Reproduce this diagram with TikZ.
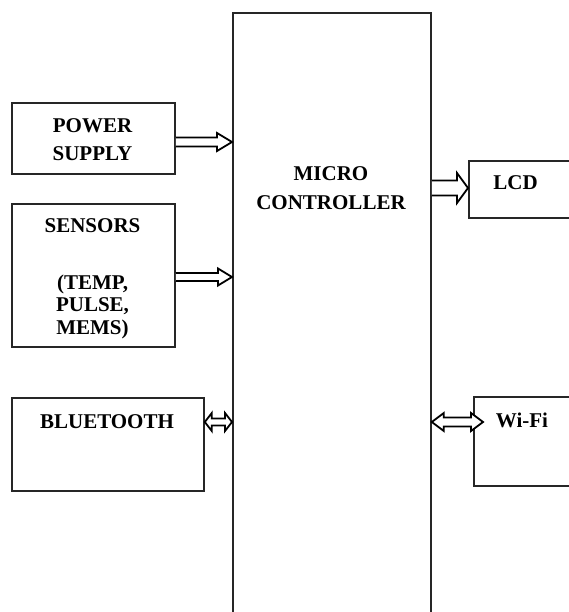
\documentclass[tikz,border=0pt]{standalone}
\usepackage{fontspec}
\setmainfont{Liberation Serif}
\usetikzlibrary{calc}
\tikzset{
  blk/.style={draw=black!85, line width=1.8pt, fill=none, inner sep=0pt, anchor=north west},
  lbl/.style={font=\fontsize{21}{28}\selectfont\bfseries, anchor=base, inner sep=0pt, align=center},
  arr/.style={draw=black, line width=1.8pt, fill=white, line join=miter},
}
% right hollow arrow: #1 start coord, #2 end coord, #3 shaft half, #4 head half, #5 head length
\newcommand\hollowR[5]{%
  \draw[arr] let \p1=(#1), \p2=(#2) in
    (\x1,\y1+#3) -- (\x2-#5,\y1+#3) -- (\x2-#5,\y1+#4) -- (\x2,\y1)
    -- (\x2-#5,\y1-#4) -- (\x2-#5,\y1-#3) -- (\x1,\y1-#3);}
% double hollow arrow
\newcommand\hollowD[5]{%
  \draw[arr] let \p1=(#1), \p2=(#2) in
    (\x1,\y1) -- (\x1+#5,\y1+#4) -- (\x1+#5,\y1+#3) -- (\x2-#5,\y1+#3) -- (\x2-#5,\y1+#4) -- (\x2,\y1)
    -- (\x2-#5,\y1-#4) -- (\x2-#5,\y1-#3) -- (\x1+#5,\y1-#3) -- (\x1+#5,\y1-#4) -- cycle;}
\begin{document}
\begin{tikzpicture}[x=1pt,y=-1pt]
\useasboundingbox (0,0) rectangle (569,612);
\clip (0,0) rectangle (569,612);
\fill[white] (0,0) rectangle (569,612);

% boxes
\node[blk, minimum width=198pt, minimum height=640pt] (mc) at (232,12) {};
\node[blk, minimum width=163pt, minimum height=71pt] (ps) at (11,102) {};
\node[blk, minimum width=163pt, minimum height=143pt] (se) at (11,203) {};
\node[blk, minimum width=192pt, minimum height=93pt] (bt) at (11,397) {};
\node[blk, minimum width=140pt, minimum height=57pt] (lcd) at (468,160) {};
\node[blk, minimum width=140pt, minimum height=89pt] (wf) at (473,396) {};

% labels
\node[lbl] (mct) at (331,181) {MICRO};
\node[lbl] (mct2) at (331,209) {CONTROLLER};
\node[lbl] (pst) at (92.5,133) {POWER};
\node[lbl] (pst2) at (92.5,161) {SUPPLY};
\node[lbl] (set) at (92.5,233) {SENSORS};
\node[lbl] (set2) at (92.5,289) {(TEMP,};
\node[lbl] (set3) at (92.5,311.5) {PULSE,};
\node[lbl] (set4) at (92.5,334) {MEMS)};
\node[lbl] (btt) at (107,428) {BLUETOOTH};
\node[lbl] (lcdt) at (515.5,190) {LCD};
\node[lbl] (wft) at (522,427) {Wi-Fi};

% arrow end points
\coordinate (a1s) at (ps.east |- 0,142);
\coordinate (a1e) at (mc.west |- 0,142);
\coordinate (a2s) at (se.east |- 0,277);
\coordinate (a2e) at (mc.west |- 0,277);
\coordinate (a3s) at (bt.east |- 0,422);
\coordinate (a3e) at (mc.west |- 0,422);
\coordinate (a4s) at (mc.east |- 0,188);
\coordinate (a4e) at (lcd.west |- 0,188);
\coordinate (a5s) at (mc.east |- 0,422);
\coordinate (a5e) at (483,422);

\hollowR{a1s}{a1e}{4.5pt}{9pt}{15pt}
\hollowR{a2s}{a2e}{4pt}{8.5pt}{14pt}
\hollowD{a3s}{a3e}{3.5pt}{9pt}{7pt}
\hollowR{a4s}{a4e}{7.5pt}{15pt}{11pt}
\hollowD{a5s}{a5e}{4.5pt}{9pt}{12pt}
\end{tikzpicture}
\end{document}
